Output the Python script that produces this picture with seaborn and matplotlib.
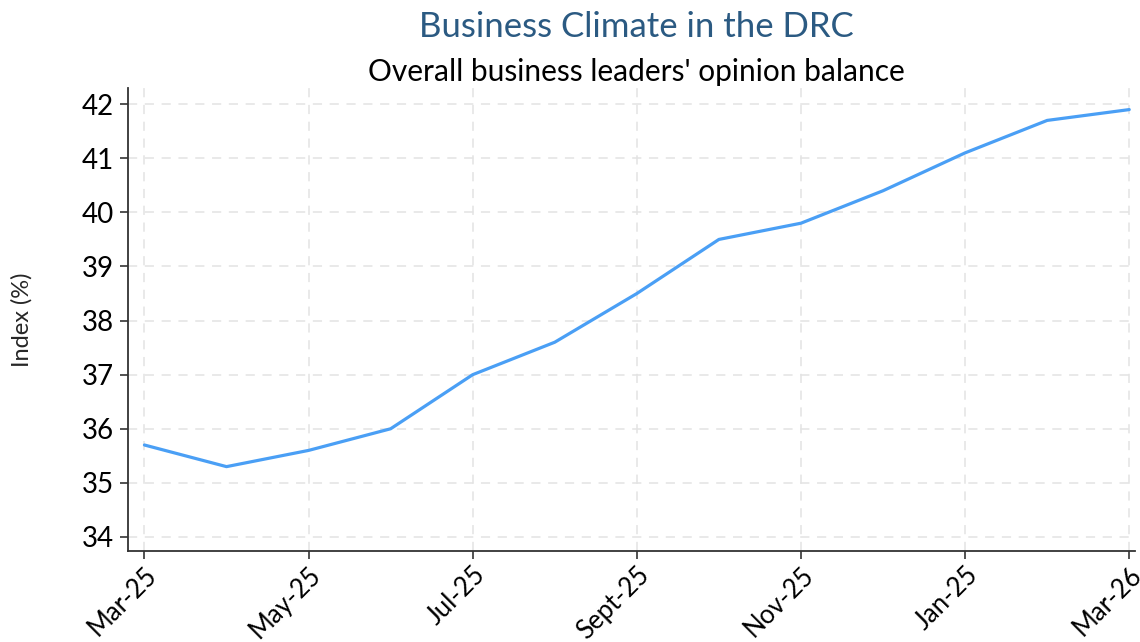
import pandas as pd
import seaborn as sns
import matplotlib.pyplot as plt

# data
months = ['Mar-25', 'Apr-25', 'May-25', 'Jun-25', 'Jul-25', 'Aug-25', 'Sept-25',
          'Oct-25', 'Nov-25', 'Dec-25', 'Jan-25', 'Feb-26', 'Mar-26']
index_values = [35.7, 35.3, 35.6, 36.0, 37.0, 37.6, 38.5, 39.5, 39.8, 40.4, 41.1, 41.7, 41.9]
tick_labels = ['Mar-25', 'May-25', 'Jul-25', 'Sept-25', 'Nov-25', 'Jan-25', 'Mar-26']
y_ticks = [34, 35, 36, 37, 38, 39, 40, 41, 42]

df = pd.DataFrame({'month': range(len(months)), 'label': months, 'value': index_values})

sns.set_style("white")
plt.rcParams['font.family'] = ['Lato', 'DejaVu Sans']

fig = plt.figure(figsize=(11.4, 6.42), dpi=100)
ax = fig.add_axes([0.1123, 0.1417, 0.8833, 0.7213])

sns.lineplot(data=df, x='month', y='value', color='#4a9ff5', linewidth=2.3, ax=ax)

ax.set_xlim(-0.2, 12.07)
ax.set_ylim(33.74, 42.3)
ax.set_xticks(df['month'][::2])
ax.set_xticklabels(tick_labels, rotation=45, ha='right', rotation_mode='anchor', fontsize=18.5)
ax.set_yticks(y_ticks)
ax.set_yticklabels([str(v) for v in y_ticks], fontsize=20)
ax.tick_params(axis='both', direction='out', length=6, width=1.2, color='#333333',
               labelcolor='black', pad=4)
ax.tick_params(axis='x', pad=2)
ax.tick_params(axis='both', bottom=True, left=True)
ax.set_xlabel('')
ax.set_ylabel('Index (%)', fontsize=17)
ax.yaxis.set_label_coords(-0.095, 0.5)

ax.grid(True, linestyle=(0, (6, 5)), color='#e3e3e3', linewidth=1.1)
sns.despine(ax=ax)
for side in ['left', 'bottom']:
    ax.spines[side].set_color('#333333')
    ax.spines[side].set_linewidth(1.3)

fig.text(0.558, 0.958, 'Business Climate in the DRC', ha='center', va='center',
         fontsize=25, color='#2b5a82')
fig.text(0.558, 0.888, "Overall business leaders' opinion balance", ha='center',
         va='center', fontsize=21.5, color='black')

plt.savefig('out.png', dpi=100)
